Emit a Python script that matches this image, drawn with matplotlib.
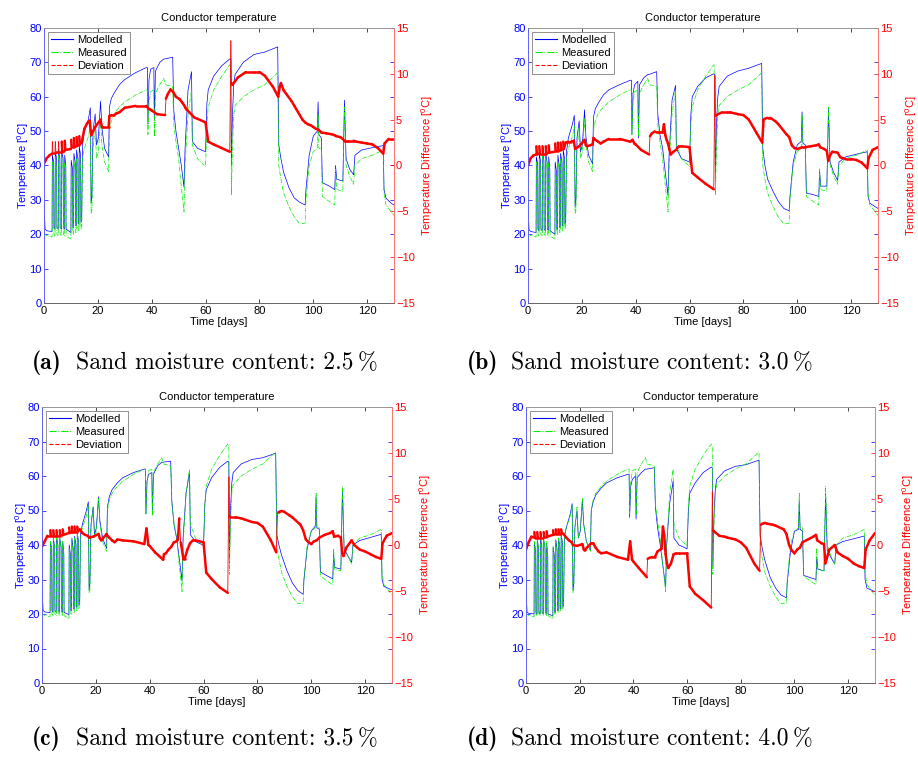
import numpy as np
import matplotlib
matplotlib.use("Agg")
import matplotlib.pyplot as plt
from matplotlib.lines import Line2D
from matplotlib.collections import LineCollection

plt.rcParams['font.family'] = ['Liberation Sans', 'DejaVu Sans']
plt.rcParams['mathtext.fontset'] = 'custom'
plt.rcParams['mathtext.rm'] = 'Liberation Sans'
plt.rcParams['mathtext.it'] = 'Liberation Sans:italic'
plt.rcParams['mathtext.bf'] = 'Liberation Sans:bold'

# --- data ---
# common breakpoints (days) for the temperature curves
t_days = [
    0, 0.4, 1, 3.0, 3.1, 3.6, 3.7, 4.1, 4.2, 4.7,
    4.8, 5.3, 5.4, 5.9, 6.0, 6.5, 6.6, 7.1, 7.2, 7.6,
    7.7, 8.1, 8.2, 10.0, 10.1, 10.6, 10.7, 11.0, 11.1, 11.6,
    11.7, 12.0, 12.1, 12.6, 12.7, 13.0, 13.1, 13.6, 13.7, 14.0,
    14.3, 15.0, 16.5, 17.2, 17.5, 17.8, 18.2, 19.0, 19.5, 20.2,
    21.0, 21.5, 22.5, 24.0, 24.3, 25, 26, 28, 30, 34,
    38, 38.4, 38.6, 39.0, 39.6, 40.8, 41.0, 41.4, 43, 44.5,
    45, 47.8, 48.2, 49, 50, 51, 52, 52.4, 53.5, 54.8,
    55.1, 57, 60, 60.5, 61, 63, 66, 69, 69.4, 69.6,
    70, 70.5, 71, 74, 78, 82, 86.8, 87.2, 88, 89,
    91, 93, 95, 97, 97.3, 98.5, 100, 101.5, 101.8, 102.1,
    103, 103.4, 106, 108, 108.3, 108.7, 111, 111.6, 112.2, 113.5,
    115, 115.5, 118, 122, 126, 126.3, 127, 129, 130]

# measured conductor temperature (same in all four cases)
measured = [
    20.3, 19.9, 19.6, 19.2, 41, 38, 20, 19.5, 42, 39,
    20, 19.5, 43, 40, 20, 19.5, 42, 39, 20, 19.5,
    41, 37, 19.5, 18.6, 39, 36, 20, 20, 41, 38,
    20.5, 20.5, 42, 39, 21, 21, 43, 40, 21.5, 22,
    42, 45, 48.5, 51.5, 26, 27, 45, 51, 42, 44,
    53.5, 46, 41, 38.2, 50, 53, 55, 57, 58.5, 60.5,
    62, 62, 49, 58, 61.5, 62, 48.5, 61, 63.5, 65.3,
    63.5, 63, 52, 47, 42, 34, 26.5, 40, 55, 62,
    46, 42, 39.7, 52, 57, 62, 66, 69.3, 68.5, 31.5,
    45, 55, 57.5, 60, 62, 63.5, 67, 40, 36, 32,
    28, 25, 23, 23.2, 30, 40, 44, 45, 55, 45,
    45, 31, 29.5, 28.5, 39, 33, 32.5, 57, 40, 37,
    34.5, 40, 42, 43, 44.5, 32, 28.5, 26.5, 25.5]

model_25 = [
    29, 21.5, 21, 20.8, 43, 41, 22, 21.5, 44, 42,
    22, 21.5, 44.5, 42, 22, 21.5, 44, 42, 22, 21.5,
    43, 40, 21.5, 20.5, 41.5, 39, 22, 22, 43.5, 41,
    22.5, 22.5, 44.5, 42, 23, 23, 45.5, 43, 23.5, 24,
    46, 50, 53.5, 56.8, 29, 31, 50, 55, 46, 48,
    58.7, 51, 45, 42.5, 57, 59.5, 61, 63.5, 65, 67,
    68.5, 68.5, 52, 65, 68, 68.5, 53, 67.5, 70, 71,
    71, 71.5, 56, 50, 45, 40, 33.7, 45, 62, 67.3,
    47, 45, 44, 58, 62, 66, 69, 71, 71, 40,
    55, 64, 66.5, 70, 72.3, 73, 74.5, 46, 42, 38,
    33.5, 30.5, 29.3, 28.5, 33, 43, 48.5, 50, 58.5, 49,
    48, 35, 34, 33, 40, 36, 35.5, 59, 42, 39,
    37.3, 43, 44.5, 45.2, 45.8, 33, 30.5, 29, 28.5]

model_30 = [
    28, 21.3, 20.8, 20.5, 42.5, 40.5, 21.5, 21, 43.5, 41,
    21.5, 21, 44, 41.5, 21.5, 21, 43.5, 41, 21.5, 21,
    42.5, 39, 21, 20, 41, 38, 21.5, 21.5, 43, 40,
    22, 22, 43.5, 41, 22.5, 22.5, 44.5, 42, 23, 23.5,
    44, 48, 52, 54.6, 28, 30, 48, 53, 44, 46,
    56.2, 48.5, 43, 40.5, 54, 56.5, 58, 60.5, 62, 63.5,
    64.8, 64.8, 49, 61, 63.5, 64.5, 48, 63.5, 65.5, 66.5,
    66.5, 67.3, 55, 49, 45, 38, 31.3, 43, 59, 63.3,
    45, 42, 41, 55, 60, 63, 65.5, 66.7, 66.5, 35.5,
    52, 60, 63, 66, 67.5, 68.3, 69.7, 45, 40, 36,
    32.5, 29.5, 27.5, 26.8, 31, 41, 46, 47, 55.6, 46.5,
    46, 32, 31.5, 31, 38.5, 34, 34, 56.5, 41, 38,
    35.7, 41, 42.5, 43.3, 44, 31, 29, 28, 27.5]

model_35 = [
    28, 21, 20.6, 20.4, 41, 39, 21, 20.5, 42, 39.5,
    21, 20.5, 42.5, 40, 21, 20.5, 42, 39.5, 21, 20.5,
    41, 37.5, 20.5, 19.8, 40, 37, 21, 21, 42, 39,
    21.5, 21.5, 42.5, 40, 22, 22, 43.5, 41, 22.5, 23,
    43, 46, 50, 52.5, 27, 29, 46, 51, 43, 45,
    54, 47, 42, 39, 51, 54, 56, 58, 59.5, 61,
    62, 62, 49, 58.5, 60.5, 61, 49, 60.5, 63, 64,
    64, 64.3, 53, 46, 42, 36, 29.6, 42, 55, 61,
    43, 41, 39.9, 52, 56, 59.5, 62.5, 64.3, 64, 34.8,
    50, 58, 61, 63.5, 64.8, 65.3, 66.6, 43, 40, 37,
    32.5, 29, 26.8, 25.7, 30, 39, 44, 45.5, 54, 45,
    44.5, 32.2, 31, 30.2, 37.5, 33.5, 33, 56.5, 39, 37,
    35, 40, 41.3, 42.2, 43.1, 30, 28, 27.3, 27]

model_40 = [
    27, 20.5, 20.2, 20, 40.5, 38.5, 20.5, 20, 41.5, 39,
    20.5, 20, 42, 39.5, 20.5, 20, 41.5, 39, 20.5, 20,
    40.5, 37, 20, 19.5, 39.5, 36.5, 20.5, 20.5, 41.5, 38.5,
    21, 21, 42, 39.5, 21.5, 21.5, 43, 40.5, 22, 22.5,
    42.5, 45, 49, 52, 27, 28.5, 45, 50, 42, 44,
    53, 46, 41, 38.5, 50, 52.5, 54.5, 56.5, 58, 59.5,
    60.5, 60.5, 48, 57, 59, 60, 47.5, 59.5, 61, 62,
    62, 62.4, 51, 45, 40, 34, 27.8, 40, 52, 58.5,
    42, 40, 38.9, 50, 55, 58, 61, 62.6, 62.3, 34,
    48, 56, 59, 61.5, 62.8, 63.3, 64.6, 43, 39, 35.5,
    30.5, 27.5, 25.5, 24.7, 29, 38, 44, 44.5, 53, 44.5,
    44, 31.2, 30.5, 30, 36.5, 33, 32.5, 55, 38.5, 36.5,
    34.5, 40, 41, 41.8, 42.6, 30, 27.5, 26.8, 26.5]

# common breakpoints (days) for the deviation curves
d_days = [
    0, 1, 2, 3.0, 3.1, 3.3, 4.1, 4.2, 4.4, 5.3,
    5.4, 5.6, 6.5, 6.6, 6.8, 7.6, 7.7, 7.9, 10.0, 10.1,
    10.3, 11.0, 11.1, 11.3, 12.0, 12.1, 12.3, 13.0, 13.1, 13.3,
    14, 15, 16, 17, 17.5, 19, 21, 21.5, 22, 24,
    24.3, 25, 26, 27, 28, 30, 34, 38, 38.8, 39.5,
    40, 42, 45, 45.3, 46, 47, 48, 49, 50, 50.5,
    51, 51.5, 52, 52.5, 53, 54, 55, 56, 57, 60,
    61, 63, 66, 69, 69.4, 69.6, 70, 72, 74, 75,
    78, 80, 82, 85, 87, 87.5, 88, 89, 90, 92,
    93, 96, 97, 98, 99, 100, 101, 102, 103, 105,
    107, 108, 108.5, 110, 111, 111.5, 112, 113, 115, 116,
    118, 120, 122, 124, 126, 126.5, 128, 130]

dev_25 = [
    0.2, 0.8, 1.1, 1.3, 2.6, 1.4, 1.4, 2.6, 1.5, 1.5,
    2.6, 1.5, 1.5, 2.6, 1.6, 1.6, 2.7, 1.7, 1.8, 2.8,
    2.0, 2.0, 3.0, 2.1, 2.1, 3.1, 2.2, 2.2, 3.2, 2.3,
    2.5, 4.0, 4.6, 4.9, 3.3, 4.2, 5.0, 4.2, 4.2, 4.2,
    5.4, 5.5, 5.5, 5.7, 5.8, 6.3, 6.5, 6.5, 6.2, 6.1,
    6.0, 5.6, 5.5, 7.3, 7.8, 8.3, 8.0, 7.5, 7.3, 7.2,
    7.0, 6.8, 6.6, 6.3, 6.1, 5.8, 5.5, 5.2, 5.1, 4.7,
    2.6, 2.3, 1.9, 1.5, 13.6, 9.0, 8.8, 9.6, 10.0, 10.2,
    10.2, 10.2, 9.8, 8.6, 7.5, 8.5, 9.0, 8.2, 7.8, 7.0,
    6.5, 5.0, 4.7, 4.5, 4.4, 4.2, 4.0, 3.9, 3.6, 3.5,
    3.4, 3.3, 3.2, 3.1, 2.9, 2.7, 2.7, 2.7, 2.7, 2.6,
    2.5, 2.4, 2.3, 1.9, 1.3, 2.4, 2.9, 2.9]

dev_30 = [
    0.0, 0.8, 1.1, 1.2, 2.1, 1.2, 1.3, 2.1, 1.3, 1.3,
    2.1, 1.3, 1.3, 2.1, 1.3, 1.4, 2.2, 1.4, 1.5, 2.4,
    1.6, 1.6, 2.5, 1.7, 1.7, 2.5, 1.7, 1.8, 2.6, 1.8,
    2.5, 2.6, 2.6, 2.7, 1.8, 2.1, 2.8, 2.2, 2.1, 2.3,
    3.0, 2.8, 2.6, 2.4, 2.6, 2.9, 2.9, 2.6, 2.8, 2.4,
    2.3, 1.7, 1.2, 3.2, 3.5, 3.7, 3.6, 3.6, 3.6, 4.5,
    3.3, 2.8, 2.4, 1.8, 1.2, 1.5, 1.7, 2.1, 2.1, 2.0,
    -0.8, -1.3, -2.0, -2.6, 9.8, 5.5, 5.5, 5.8, 5.8, 5.8,
    5.6, 5.5, 5.0, 3.5, 2.5, 5.0, 5.1, 5.2, 5.2, 4.8,
    4.5, 3.4, 3.1, 2.2, 1.9, 1.8, 1.9, 2.0, 2.0, 2.1,
    2.2, 2.3, 2.0, 1.8, 1.6, 0.5, 1.0, 1.5, 1.4, 0.9,
    0.7, 0.7, 0.6, 0.3, -0.3, 0.8, 1.7, 2.0]

dev_35 = [
    -0.2, 0.4, 1.0, 1.0, 1.6, 1.0, 1.0, 1.6, 1.0, 1.0,
    1.6, 1.0, 1.0, 1.6, 1.1, 1.1, 1.7, 1.1, 1.3, 1.9,
    1.3, 1.4, 2.0, 1.4, 1.4, 2.0, 1.4, 1.4, 2.0, 1.5,
    1.7, 1.3, 1.1, 1.0, 0.8, 0.9, 1.2, 0.7, 0.5, 1.2,
    1.0, 0.8, 0.5, 0.3, 0.6, 0.5, 0.4, 0.1, 1.8, 0.0,
    -0.1, -0.8, -1.6, -1.0, -0.9, -0.5, -0.2, 0.3, 0.4, 0.6,
    2.9, 0.3, -0.5, -1.5, -1.5, -0.5, 0.2, 0.5, 0.5, 0.3,
    -3.0, -3.7, -4.6, -5.2, 7.4, 3.1, 3.0, 3.0, 2.9, 2.8,
    2.5, 2.4, 2.0, 0.5, -0.8, 3.6, 3.6, 3.7, 3.6, 3.2,
    3.0, 2.2, 1.6, 0.6, 0.3, 0.1, 0.4, 0.5, 0.8, 1.1,
    1.3, 1.5, 0.9, 1.0, 0.8, -0.9, -1.2, -0.3, 0.5, 0.0,
    -0.5, -0.7, -1.0, -1.3, -1.5, 0.2, 1.0, 1.3]

dev_40 = [
    -0.5, 0.3, 0.9, 0.8, 1.4, 0.8, 0.8, 1.4, 0.8, 0.8,
    1.4, 0.8, 0.8, 1.4, 0.9, 0.9, 1.5, 0.9, 1.1, 1.6,
    1.1, 1.2, 1.7, 1.2, 1.2, 1.7, 1.2, 1.2, 1.7, 1.3,
    1.2, 0.8, 0.5, 0.3, 0.0, -0.1, 0.1, -0.5, -0.5, 0.1,
    0.2, 0.2, -0.3, -0.7, -0.9, -0.8, -1.3, -1.6, 0.4, -1.6,
    -1.8, -2.5, -3.5, -1.5, -1.4, -1.3, -1.3, -0.7, -0.5, -0.4,
    2.0, 1.0, -1.0, -2.0, -2.5, -2.0, -1.0, -0.9, -0.9, -0.9,
    -4.5, -5.3, -6.0, -6.8, 5.8, 1.6, 1.5, 1.0, 0.9, 0.8,
    0.6, 0.3, -0.3, -2.0, -2.8, 2.2, 2.3, 2.4, 2.3, 2.2,
    2.1, 1.7, 1.2, 0.0, -0.6, -0.9, -0.5, -0.3, 0.3, 0.6,
    0.9, 1.1, 0.5, 0.2, 0.1, -2.0, -1.5, -0.5, 0.0, -0.8,
    -1.2, -1.5, -2.0, -2.3, -2.5, -0.5, 0.5, 1.3]

x_ticks = [0, 20, 40, 60, 80, 100, 120]
left_ticks = [0, 10, 20, 30, 40, 50, 60, 70, 80]
right_ticks = [-15, -10, -5, 0, 5, 10, 15]

captions = ['(a)', '(b)', '(c)', '(d)']
moisture = ['2.5', '3.0', '3.5', '4.0']
models = [model_25, model_30, model_35, model_40]
devs = [dev_25, dev_30, dev_35, dev_40]

W, H = 918, 758
# axes boxes in pixels: left, top, right, bottom
boxes = [(44, 28, 394, 303), (528, 28, 878, 303),
         (42, 407, 392, 683), (526, 407, 875, 683)]
cap_pos = [(32, 76, 363), (467, 511, 363), (32, 76, 739), (467, 511, 739)]

BLUE = '#0000ff'
GREEN = '#00ee00'
RED = '#ff0000'
FS = 8


def deviation_line(ax, days, dev):
    # thick where the noisy deviation trace is dense, thin across the jumps
    pts = np.column_stack([days, dev])
    segs = np.stack([pts[:-1], pts[1:]], axis=1)
    slope = np.abs(np.diff(dev)) / np.diff(days)
    lws = np.where(slope > 5, 0.6, 1.8)
    lc = LineCollection(segs, colors=RED, linewidths=lws, capstyle='round')
    ax.add_collection(lc)


fig = plt.figure(figsize=(W / 100, H / 100), dpi=100)

for i in range(4):
    l, t, r, b = boxes[i]
    ax = fig.add_axes([l / W, 1 - b / H, (r - l) / W, (b - t) / H])
    ax2 = ax.twinx()

    ax.plot(t_days, models[i], color=BLUE, lw=0.5, ls='-')
    ax.plot(t_days, measured, color=GREEN, lw=0.5, ls='-.')
    deviation_line(ax2, d_days, devs[i])

    ax.set_xlim(0, 130)
    ax.set_ylim(0, 80)
    ax2.set_ylim(-15, 15)
    ax.set_xticks(x_ticks)
    ax.set_yticks(left_ticks)
    ax2.set_yticks(right_ticks)

    ax.tick_params(axis='x', direction='in', top=True, length=3, width=0.5,
                   labelsize=FS, pad=2, colors='black')
    ax.tick_params(axis='y', direction='in', right=True, length=3, width=0.5,
                   labelsize=FS, pad=1.5, colors=BLUE)
    ax2.tick_params(axis='y', direction='in', length=3, width=0.5,
                    labelsize=FS, pad=1.5, colors=RED)

    for a in (ax, ax2):
        a.spines['left'].set_color('#6060ff')
        a.spines['right'].set_color('#ff7070')
        a.spines['top'].set_color('#999999')
        a.spines['bottom'].set_color('#666666')
        for s in a.spines.values():
            s.set_linewidth(0.6)

    ax.set_title('Conductor temperature', fontsize=FS, pad=5)
    ax.set_xlabel('Time [days]', fontsize=FS, labelpad=1)
    ax.set_ylabel('Temperature [$^{0}$C]', fontsize=FS, color=BLUE, labelpad=-1)
    ax2.set_ylabel('Temperature Difference [$^{0}$C]', fontsize=FS, color=RED,
                   labelpad=3)

    handles = [Line2D([], [], color=BLUE, lw=0.8, ls='-'),
               Line2D([], [], color=GREEN, lw=0.8, ls='-.'),
               Line2D([], [], color=RED, lw=0.8, ls='--')]
    leg = ax2.legend(handles, ['Modelled', 'Measured', 'Deviation'],
                     loc='upper left', fontsize=FS, fancybox=False,
                     edgecolor='#808080', framealpha=1, borderpad=0.3,
                     labelspacing=0.25, handlelength=2.0, handletextpad=0.3,
                     borderaxespad=0.35)
    leg.get_frame().set_linewidth(0.6)

    # caption below each panel, LaTeX-like
    x1, x2, yc = cap_pos[i]
    fig.text(x1 / W, 1 - yc / H, captions[i], fontfamily='cmb10', fontsize=17,
             ha='left', va='center')
    body = fig.text(x2 / W, 1 - yc / H, 'Sand moisture content: ' + moisture[i],
                    fontfamily='cmr10', fontsize=17, ha='left', va='center')
    fig.add_artist(plt.Annotation('%', xy=(1, 0), xycoords=body,
                                  xytext=(3, 0), textcoords='offset points',
                                  fontfamily='cmr10', fontsize=17,
                                  ha='left', va='bottom'))

fig.savefig('out.png', dpi=100)
